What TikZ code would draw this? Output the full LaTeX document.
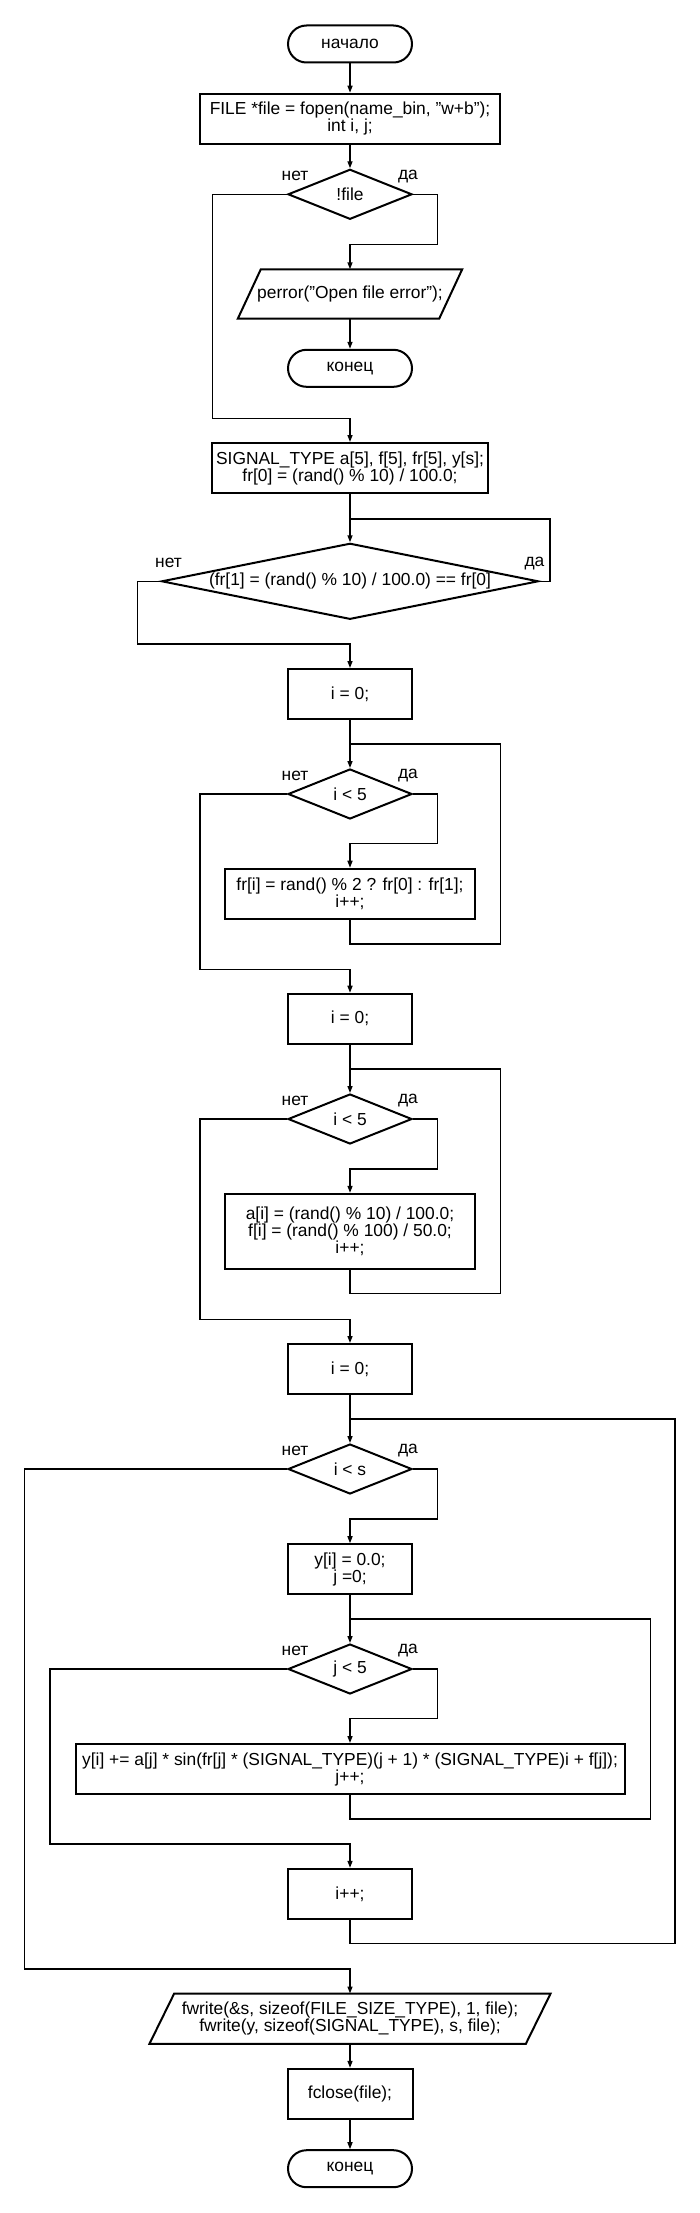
\documentclass[tikz,border=0pt]{standalone}
\usepackage{fontspec}
\setmainfont{Liberation Sans}
\usetikzlibrary{shapes.geometric,arrows.meta,calc}
\tikzset{
  proc/.style={draw, line width=2pt, rectangle, inner sep=0pt, align=center},
  term/.style={draw, line width=2pt, rectangle, rounded corners=18.5pt, inner sep=0pt, minimum width=124pt, minimum height=37pt, align=center},
  decision/.style={draw, line width=2pt, diamond, inner sep=0pt},
  iobox/.style={rectangle, inner sep=0pt, align=center},
  ioline/.style={draw, line width=2pt},
  conn/.style={draw, line width=1.4pt, -{Triangle[length=7pt,width=5pt]}},
  plainline/.style={draw, line width=1.4pt},
  lbl/.style={inner sep=0pt}
}
\begin{document}
\begin{tikzpicture}[x=1pt,y=-1pt,font=\fontsize{17.4}{17}\selectfont]
\path[fill=white,use as bounding box] (0,0) rectangle (700,2213);

% nodes
\node[term] (start) at (350,44) {начало};
\node[proc, minimum width=300pt, minimum height=50pt] (b1) at (350,118.7) {FILE *file = fopen(name\_bin, "w+b");\\int i, j;};
\node[decision, minimum width=124pt, minimum height=50pt, label={center:{!file}}] (d1) at (350,194.3) {};
\node[iobox, minimum width=201pt, minimum height=49pt] (p1) at (350,294) {perror("Open file error");};
\draw[ioline] ([xshift=11.5pt]p1.north west) -- ([xshift=11.5pt]p1.north east) -- ([xshift=-11.5pt]p1.south east) -- ([xshift=-11.5pt]p1.south west) -- cycle;
\node[term] (e1) at (350,368.3) {конец};
\node[proc, minimum width=276pt, minimum height=50pt] (b2) at (350,468) {SIGNAL\_TYPE a[5], f[5], fr[5], y[s];\\fr[0] = (rand() \% 10) / 100.0;};
\node[decision, minimum width=377pt, minimum height=76pt, label={center:{(fr[1] = (rand() \% 10) / 100.0) == fr[0]}}] (d2) at (350,581.3) {};
\node[proc, minimum width=124pt, minimum height=50pt] (b3) at (350,694) {i = 0;};
\node[decision, minimum width=124pt, minimum height=50pt, label={center:{i < 5}}] (d3) at (350,794) {};
\node[proc, minimum width=250pt, minimum height=50pt] (b4) at (350,893.7) {fr[i] = rand() \% 2 ? fr[0] : fr[1];\\i++;};
\node[proc, minimum width=124pt, minimum height=50pt] (b5) at (350,1018.7) {i = 0;};
\node[decision, minimum width=124pt, minimum height=50pt, label={center:{i < 5}}] (d4) at (350,1119) {};
\node[proc, minimum width=250pt, minimum height=75pt] (b6) at (350,1231.3) {a[i] = (rand() \% 10) / 100.0;\\f[i] = (rand() \% 100) / 50.0;\\i++;};
\node[proc, minimum width=124pt, minimum height=50pt] (b7) at (350,1369) {i = 0;};
\node[decision, minimum width=124pt, minimum height=50pt, label={center:{i < s}}] (d5) at (350,1469) {};
\node[proc, minimum width=124pt, minimum height=50pt] (b8) at (350,1569.2) {y[i] = 0.0;\\j =0;};
\node[decision, minimum width=124pt, minimum height=50pt, label={center:{j < 5}}] (d6) at (350,1669) {};
\node[proc, minimum width=549pt, minimum height=50pt] (b9) at (350,1769) {y[i] += a[j] * sin(fr[j] * (SIGNAL\_TYPE)(j + 1) * (SIGNAL\_TYPE)i + f[j]);\\j++;};
\node[proc, minimum width=124pt, minimum height=50pt] (b10) at (350,1893.8) {i++;};
\node[iobox, minimum width=376pt, minimum height=50pt] (p2) at (350,2018.7) {fwrite(\&s, sizeof(FILE\_SIZE\_TYPE), 1, file);\\fwrite(y, sizeof(SIGNAL\_TYPE), s, file);};
\draw[ioline] ([xshift=12.4pt]p2.north west) -- ([xshift=12.4pt]p2.north east) -- ([xshift=-12.4pt]p2.south east) -- ([xshift=-12.4pt]p2.south west) -- cycle;
\node[proc, minimum width=125pt, minimum height=50pt] (b11) at (350,2093.8) {fclose(file);};
\node[term] (e2) at (350,2168.7) {конец};

% branch labels
\foreach \d in {d1,d2,d3,d4,d5,d6}{
  \node[lbl] (\d no) at ($(\d.west)+(8,-18)$) {нет};
  \node[lbl] (\d yes) at ($(\d.east)+(-5,-18)$) {да};
}

% junction coordinates
\coordinate (j1) at (350,519);
\coordinate (j2) at (350,744);
\coordinate (j3) at (350,1069);
\coordinate (j4) at (350,1419);
\coordinate (j5) at (350,1619);

% connectors
\draw[conn] (start) -- (b1);
\draw[conn] (b1) -- (d1);
\draw[conn] (d1.east) -| (437.3,244.3) -| (p1.north);
\draw[conn] (p1) -- (e1);
\draw[conn] (d1.west) -| (212.7,418.3) -| (b2.north);
\draw[conn] (b2) -- (d2);
\draw[plainline] (d2.east) -| (550,519) -- (j1);
\draw[conn] (d2.west) -| (137.3,644) -| (b3.north);

\draw[conn] (b3) -- (d3);
\draw[conn] (d3.east) -| (437.3,843.3) -| (b4.north);
\draw[plainline] (b4.south) |- (500.7,944) |- (j2);
\draw[conn] (d3.west) -| (200,969.3) -| (b5.north);

\draw[conn] (b5) -- (d4);
\draw[conn] (d4.east) -| (437.3,1169) -| (b6.north);
\draw[plainline] (b6.south) |- (500.7,1293.3) |- (j3);
\draw[conn] (d4.west) -| (200,1319.3) -| (b7.north);

\draw[conn] (b7) -- (d5);
\draw[conn] (d5.east) -| (437.5,1519) -| (b8.north);
\draw[conn] (b8) -- (d6);
\draw[conn] (d6.east) -| (437.5,1718.3) -| (b9.north);
\draw[plainline] (b9.south) |- (650.4,1819) |- (j5);
\draw[conn] (d6.west) -| (50,1844) -| (b10.north);
\draw[plainline] (b10.south) |- (675,1943.3) |- (j4);
\draw[conn] (d5.west) -| (24.5,1969) -| (p2.north);
\draw[conn] (p2) -- (b11);
\draw[conn] (b11) -- (e2);
\end{tikzpicture}
\end{document}
